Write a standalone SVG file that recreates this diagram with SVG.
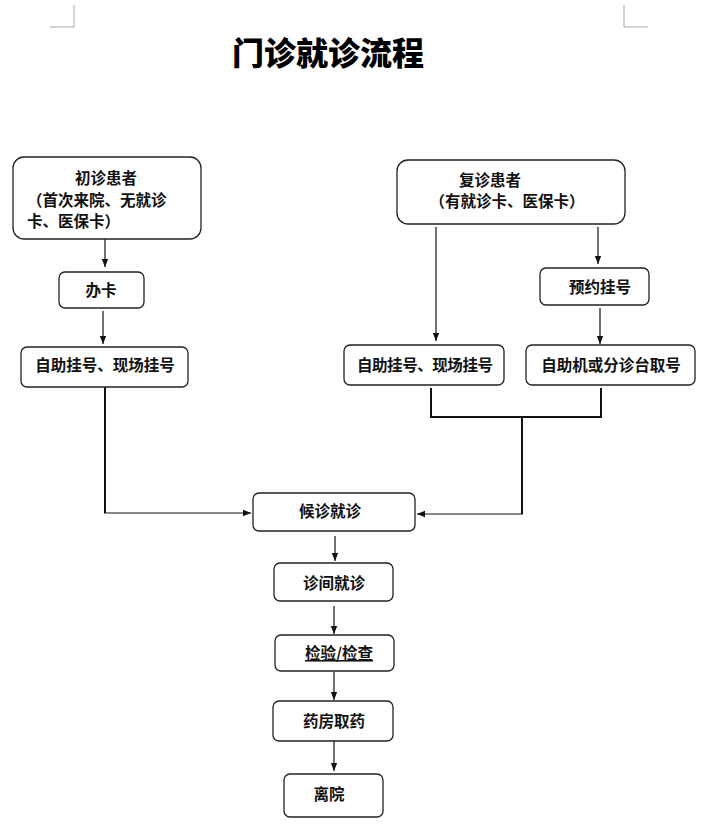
<svg xmlns="http://www.w3.org/2000/svg" width="713" height="829" viewBox="0 0 713 829">
<defs>
<style>
.box{fill:#fff;stroke:#222;stroke-width:1.3}
.t{font-family:"Noto Sans CJK SC","Liberation Sans",sans-serif;font-size:15.5px;font-weight:bold;fill:#111;text-anchor:middle}
.ln{fill:none;stroke:#111;stroke-width:1.2}
.thk{fill:none;stroke:#111;stroke-width:2}
.corner{fill:none;stroke:#aaa;stroke-width:1}
</style>
<marker id="ah" viewBox="0 0 10 10" refX="10" refY="5" markerWidth="8" markerHeight="8" markerUnits="userSpaceOnUse" orient="auto">
<path d="M0,1 L10,5 L0,9 z" fill="#111"/>
</marker>
</defs>
<rect width="713" height="829" fill="#fff"/>
<path class="corner" d="M74,5 V27 H50 M624,5 V27 H648"/>
<text x="328" y="65" font-family="'Noto Sans CJK SC',sans-serif" font-size="32" font-weight="900" fill="#000" text-anchor="middle">门诊就诊流程</text>

<g id="connectors">
<line class="ln" x1="105" y1="239" x2="105" y2="267" marker-end="url(#ah)"/>
<line class="ln" x1="103" y1="311" x2="103" y2="344" marker-end="url(#ah)"/>
<path class="thk" d="M105,387 V513"/>
<line class="ln" x1="104" y1="513" x2="251" y2="513" stroke-width="1.5" marker-end="url(#ah)"/>
<line class="ln" x1="436" y1="227" x2="436" y2="341" marker-end="url(#ah)"/>
<line class="ln" x1="598" y1="227" x2="598" y2="264" marker-end="url(#ah)"/>
<line class="ln" x1="600" y1="308" x2="600" y2="344" marker-end="url(#ah)"/>
<path class="thk" d="M431,388 V417 H601 V388"/>
<path class="thk" d="M522,418 V514"/>
<line class="ln" x1="523" y1="514" x2="417" y2="514" stroke-width="1.5" marker-end="url(#ah)"/>
<line class="ln" x1="335" y1="536" x2="335" y2="561" marker-end="url(#ah)"/>
<line class="ln" x1="334" y1="606" x2="334" y2="634" marker-end="url(#ah)"/>
<line class="ln" x1="334" y1="672" x2="334" y2="700" marker-end="url(#ah)"/>
<line class="ln" x1="334" y1="741" x2="334" y2="771" marker-end="url(#ah)"/>
</g>

<g id="n1"><rect class="box" x="13" y="157" width="188" height="82" rx="11"/>
<text class="t" x="106" y="184">初诊患者</text>
<text class="t" x="27" y="206" style="text-anchor:start">（首次来院、无就诊</text>
<text class="t" x="27" y="227" style="text-anchor:start">卡、医保卡）</text></g>
<g id="n2"><rect class="box" x="59" y="272" width="85" height="36" rx="6"/><text class="t" x="101" y="296">办卡</text></g>
<g id="n3"><rect class="box" x="21" y="347" width="167" height="40" rx="6"/><text class="t" x="105" y="371">自助挂号、现场挂号</text></g>
<g id="n4"><rect class="box" x="397" y="160" width="228" height="64" rx="11"/>
<text class="t" x="490" y="186">复诊患者</text>
<text class="t" x="507" y="207">（有就诊卡、医保卡）</text></g>
<g id="n5"><rect class="box" x="540" y="268" width="109" height="37" rx="6"/><text class="t" x="600" y="293">预约挂号</text></g>
<g id="n6"><rect class="box" x="344" y="345" width="160" height="40" rx="6"/><text class="t" x="425" y="371" textLength="136">自助挂号、现场挂号</text></g>
<g id="n7"><rect class="box" x="526" y="345" width="169" height="40" rx="6"/><text class="t" x="611" y="371">自助机或分诊台取号</text></g>
<g id="n8"><rect class="box" x="253" y="493" width="162" height="38" rx="6"/><text class="t" x="330" y="517">候诊就诊</text></g>
<g id="n9"><rect class="box" x="274" y="563" width="119" height="38" rx="6"/><text class="t" x="334" y="589">诊间就诊</text></g>
<g id="n10"><rect class="box" x="275" y="635" width="119" height="36" rx="6"/><text class="t" x="339" y="659" text-decoration="underline">检验/检查</text></g>
<g id="n11"><rect class="box" x="273" y="701" width="120" height="40" rx="6"/><text class="t" x="334" y="727">药房取药</text></g>
<g id="n12"><rect class="box" x="284" y="774" width="99" height="43" rx="6"/><text class="t" x="329" y="800">离院</text></g>
</svg>
